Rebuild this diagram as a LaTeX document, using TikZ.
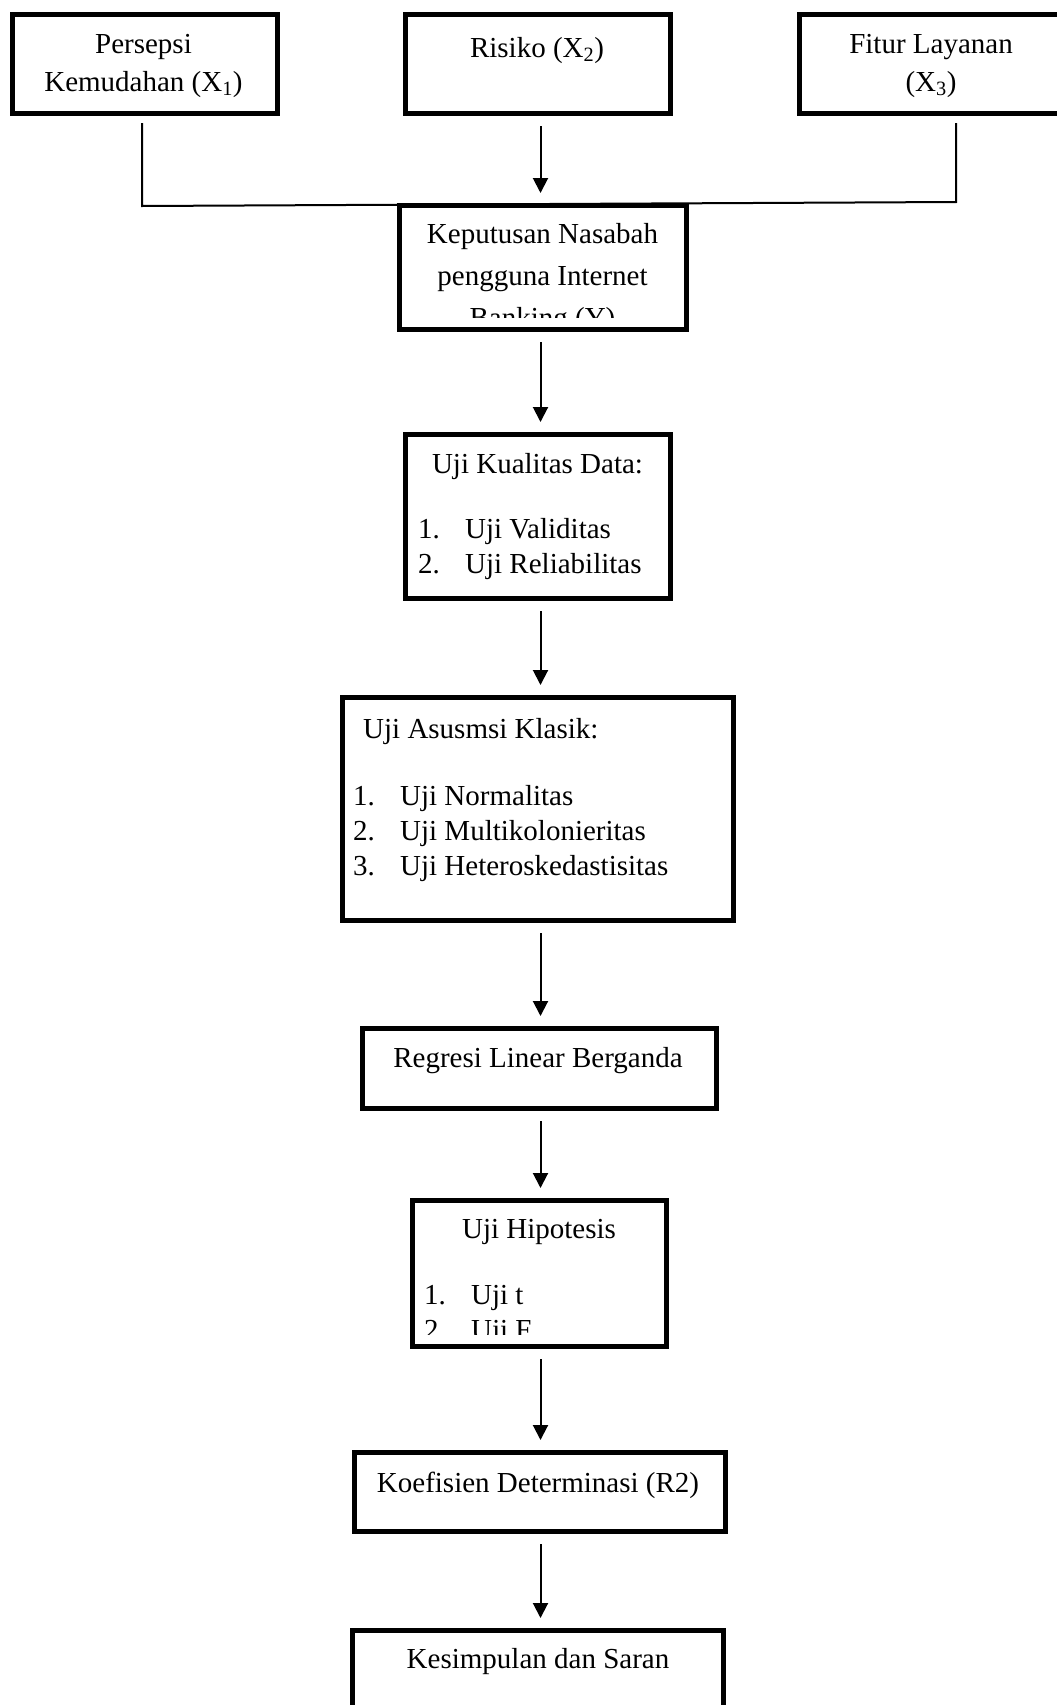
\documentclass[tikz,border=0pt]{standalone}
\usepackage{fontspec}
\setmainfont{Liberation Serif}[Ligatures=CommonOff]
\usetikzlibrary{arrows.meta}
\newcommand{\itemno}[1]{\makebox[47pt][l]{#1}}
\tikzset{
    box/.style={draw, line width=5pt, fill=white, inner sep=0pt, outer sep=0pt},
    btext/.style={font=\fontsize{29}{38}\selectfont, inner sep=0pt, align=center, anchor=base},
    blist/.style={font=\fontsize{29}{35}\selectfont, inner sep=0pt, align=left, anchor=base west},
    link/.style={line width=2pt, shorten <=10pt, shorten >=10pt},
    arrow/.style={-{Triangle[length=15pt, width=15pt]}, line width=2pt, shorten <=13pt, shorten >=12pt}
}

\begin{document}
\begin{tikzpicture}[x=1pt, y=-1pt]
        \useasboundingbox (0,0) rectangle (1057,1705);
        % Variabel bebas (anchor base = baris terakhir)
        \node[box, minimum width=265pt, minimum height=99pt] (X1) at (144.5,63.5) {};
        \node[box, minimum width=265pt, minimum height=99pt] (X2) at (537.5,63.5) {};
        \node[box, minimum width=264pt, minimum height=99pt] (X3) at (931,63.5) {};
        \node[btext] (X1txt) at (143.5,91) {Persepsi\\Kemudahan (X\textsubscript{1})};
        \node[btext] (X2txt) at (537,57) {Risiko (X\textsubscript{2})};
        \node[btext] (X3txt) at (931,91) {Fitur Layanan\\(X\textsubscript{3})};

        % Garis penghubung X1 dan X3
        \coordinate (jL) at (142,206);
        \coordinate (jR) at (956,202);
        \coordinate (axis) at (540.5,0);
        \draw[link] (X1.south -| jL) -- (jL) -- (jR) -- (X3.south -| jR);

        % Variabel terikat
        \node[box, minimum width=287pt, minimum height=124pt] (Y) at (542.5,267) {};
        \begin{scope}
            \clip (Y.north west) rectangle ([yshift=12pt]Y.south east);
            \node[btext, font=\fontsize{29}{42}\selectfont] (Ytxt) at (542.5,327) {Keputusan Nasabah\\pengguna Internet\\Banking (Y)};
        \end{scope}

        % Tahap analisis
        \node[box, minimum width=265pt, minimum height=164pt] (Kual) at (537.5,516) {};
        \node[btext] (Kualhead) at (537.5,473) {Uji Kualitas Data:};
        \node[blist] (Kuallist) at (418,573) {\itemno{1.}Uji Validitas\\\itemno{2.}Uji Reliabilitas};

        \node[box, minimum width=391pt, minimum height=223pt] (Asumsi) at (537.5,808.5) {};
        \node[btext, anchor=base west] (Asumsihead) at (363,738) {Uji Asusmsi Klasik:};
        \node[blist] (Asumsilist) at (353,875) {\itemno{1.}Uji Normalitas\\\itemno{2.}Uji Multikolonieritas\\\itemno{3.}Uji Heteroskedastisitas};

        \node[box, minimum width=354pt, minimum height=80pt] (Reg) at (539,1068) {};
        \node[btext] (Regtxt) at (538,1067) {Regresi Linear Berganda};

        \node[box, minimum width=254pt, minimum height=146pt] (Hip) at (539,1273) {};
        \node[btext] (Hiphead) at (539,1238) {Uji Hipotesis};
        \begin{scope}
            \clip (Hip.north west) rectangle ([yshift=12pt]Hip.south east);
            \node[blist] (Hiplist) at (424,1339) {\itemno{1.}Uji t\\\itemno{2.}Uji F};
        \end{scope}

        \node[box, minimum width=371pt, minimum height=79pt] (Koef) at (539.5,1491.5) {};
        \node[btext] (Koeftxt) at (538,1492) {Koefisien Determinasi (R2)};

        \node[box, minimum width=371pt, minimum height=120pt] (Kes) at (537.5,1690) {};
        \node[btext] (Kestxt) at (538,1668) {Kesimpulan dan Saran};

        % Alur
        \draw[arrow] (X2.south -| axis) -- (Y.north -| axis);
        \draw[arrow] (Y.south -| axis) -- (Kual.north -| axis);
        \draw[arrow] (Kual.south -| axis) -- (Asumsi.north -| axis);
        \draw[arrow] (Asumsi.south -| axis) -- (Reg.north -| axis);
        \draw[arrow] (Reg.south -| axis) -- (Hip.north -| axis);
        \draw[arrow] (Hip.south -| axis) -- (Koef.north -| axis);
        \draw[arrow] (Koef.south -| axis) -- (Kes.north -| axis);
    \end{tikzpicture}
\end{document}
